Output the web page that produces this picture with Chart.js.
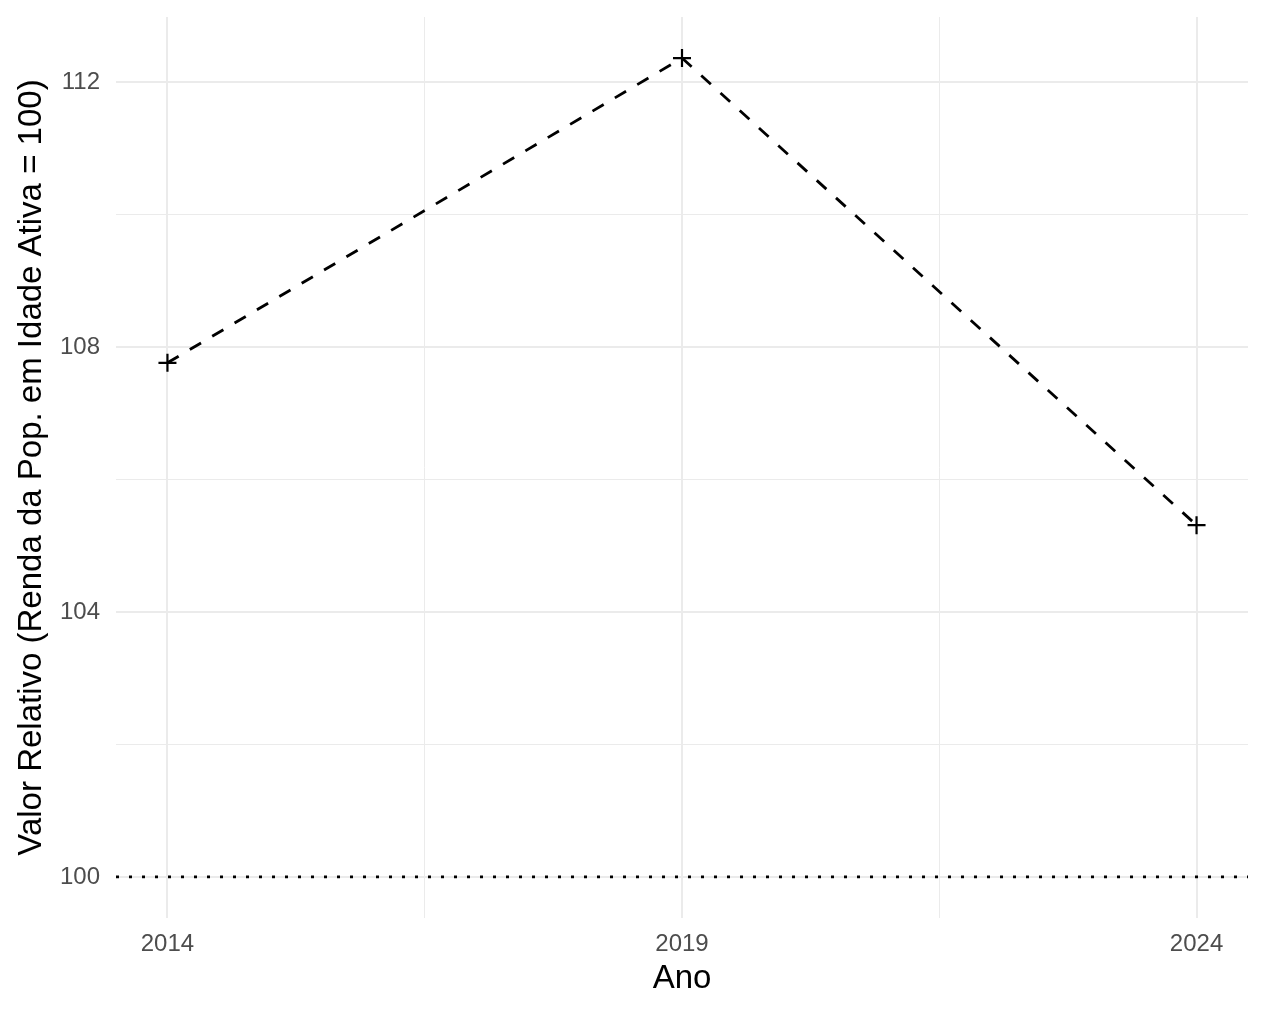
<!DOCTYPE html>
<html>
<head>
<meta charset="utf-8">
<script src="https://cdn.jsdelivr.net/npm/chart.js"></script>
<style>
  html, body { margin: 0; padding: 0; background: #fff; }
  #c { display: block; }
</style>
</head>
<body>
<canvas id="c" width="1264" height="1015"></canvas>
<script>
const anos = [2014, 2019, 2024];
const valores = [107.76, 112.36, 105.31];
const referencia = 100;

const xMajor = [2014, 2019, 2024];
const xMinor = [2016.5, 2021.5];
const yMajor = [100, 104, 108, 112];
const yMinor = [102, 106, 110];

const xMin = 2013.5, xMax = 2024.5;
const yMin = 99.38, yMax = 112.98;

const gridColor = '#ebebeb';
const font = 'Liberation Sans, Arial, sans-serif';

function gridWidth(ctx, major) {
    const v = ctx.tick ? ctx.tick.value : null;
    return major.includes(v) ? 2 : 1;
}

new Chart(document.getElementById('c'), {
    type: 'line',
    data: {
        datasets: [{
            data: anos.map((a, i) => ({ x: a, y: valores[i] })),
            borderColor: '#000',
            borderWidth: 2.8,
            borderDash: [13, 13],
            tension: 0,
            pointStyle: 'cross',
            pointRadius: 9,
            pointBorderWidth: 2.2,
            pointBorderColor: '#000',
            pointHoverRadius: 9
        }, {
            data: [{ x: xMin, y: referencia }, { x: xMax, y: referencia }],
            borderColor: '#000',
            borderWidth: 2.8,
            borderDash: [3, 10],
            pointRadius: 0
        }]
    },
    options: {
        responsive: false,
        animation: false,
        layout: { padding: { top: 17, right: 16, left: 0, bottom: 0 } },
        plugins: {
            legend: { display: false },
            tooltip: { enabled: false }
        },
        scales: {
            x: {
                type: 'linear',
                min: xMin,
                max: xMax,
                afterBuildTicks: s => { s.ticks = xMajor.concat(xMinor).sort((a, b) => a - b).map(v => ({ value: v })); },
                afterFit: s => { s.height = 97; s.paddingLeft = 0; s.paddingRight = 0; },
                border: { display: false },
                grid: {
                    color: gridColor,
                    lineWidth: ctx => gridWidth(ctx, xMajor),
                    drawTicks: false
                },
                ticks: {
                    autoSkip: false,
                    maxRotation: 0,
                    padding: 12,
                    color: '#4d4d4d',
                    font: { family: font, size: 24 },
                    callback: v => xMajor.includes(v) ? String(v) : ''
                },
                title: {
                    display: true,
                    text: 'Ano',
                    color: '#000',
                    font: { family: font, size: 33 },
                    padding: { top: 0, bottom: 16 }
                }
            },
            y: {
                min: yMin,
                max: yMax,
                afterBuildTicks: s => { s.ticks = yMajor.concat(yMinor).sort((a, b) => a - b).map(v => ({ value: v })); },
                afterFit: s => { s.width = 116; s.paddingTop = 0; s.paddingBottom = 0; },
                border: { display: false },
                grid: {
                    color: gridColor,
                    lineWidth: ctx => gridWidth(ctx, yMajor),
                    drawTicks: false
                },
                ticks: {
                    autoSkip: false,
                    padding: 16,
                    color: '#4d4d4d',
                    font: { family: font, size: 24 },
                    callback: v => yMajor.includes(v) ? String(v) : ''
                },
                title: {
                    display: true,
                    text: 'Valor Relativo (Renda da Pop. em Idade Ativa = 100)',
                    color: '#000',
                    font: { family: font, size: 33 },
                    padding: { top: 12, bottom: 0 }
                }
            }
        }
    }
});
</script>
</body>
</html>
